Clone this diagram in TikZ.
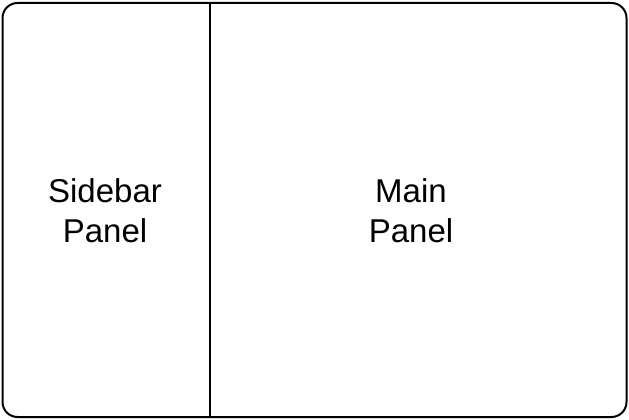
\documentclass[tikz,border=0pt]{standalone}
\usepackage{fontspec}
\setmainfont{Liberation Sans}
\begin{document}
\begin{tikzpicture}[x=1pt,y=-1pt,
  panellabel/.style={align=center,font=\fontsize{33}{40}\selectfont,inner sep=0pt}]
\useasboundingbox (0,0) rectangle (629,420);
\node[draw,line width=2pt,rounded corners=15pt,minimum width=624pt,minimum height=414pt,inner sep=0pt] (frame) at (314.5,210) {};
\coordinate (divtop) at (210,3);
\coordinate (divbot) at (210,417);
\draw[line width=1.3pt] (divtop) -- (divbot);
\node[panellabel] (side) at (105,211) {Sidebar\\Panel};
\node[panellabel] (main) at (411,211) {Main\\Panel};
\end{tikzpicture}
\end{document}
